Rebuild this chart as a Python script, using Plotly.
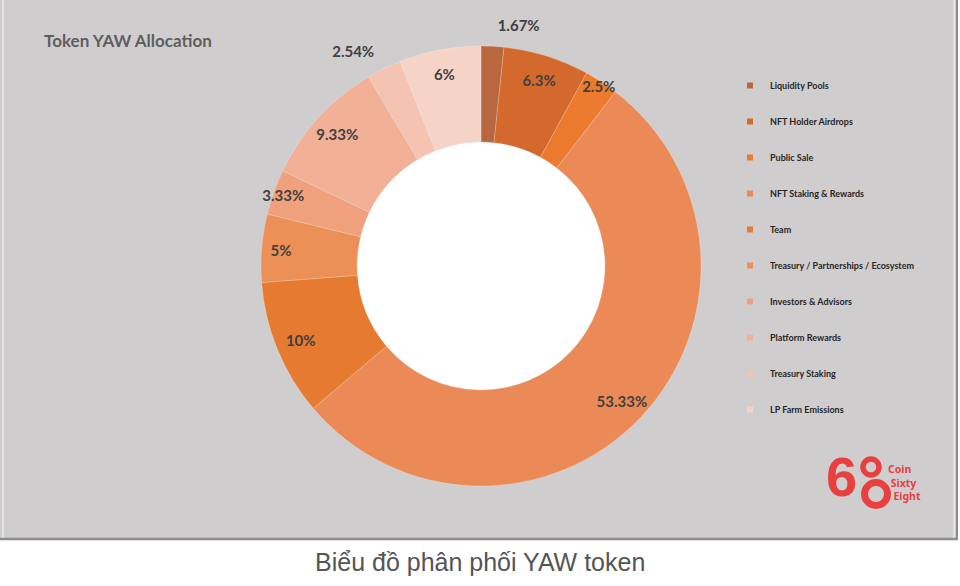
import plotly.graph_objects as go

labels = ["Liquidity Pools", "NFT Holder Airdrops", "Public Sale", "NFT Staking & Rewards",
          "Team", "Treasury / Partnerships / Ecosystem", "Investors & Advisors",
          "Platform Rewards", "Treasury Staking", "LP Farm Emissions"]
values = [1.67, 6.3, 2.5, 53.33, 10, 5, 3.33, 9.33, 2.54, 6]
colors = ["#b9673f", "#d4692e", "#ec7a2f", "#ec8a57", "#e57a30",
          "#ec9058", "#f0a07c", "#f2b097", "#f4c3b2", "#f6d3c7"]
text_pos = ["outside", "inside", "inside", "inside", "inside",
            "inside", "inside", "inside", "outside", "inside"]

W, H = 960, 586
cx, cy, R = 481, 266, 220
hole_r = 124
R2 = 232  # label ring

def dom(r):
    return dict(x=[(cx - r) / W, (cx + r) / W], y=[(H - cy - r) / H, (H - cy + r) / H])

def px_circle(x, y, r):
    return dict(x0=(x - r) / W, x1=(x + r) / W, y0=(H - y - r) / H, y1=(H - y + r) / H)

fig = go.Figure()
# donut
fig.add_trace(go.Pie(
    labels=labels, values=values, sort=False, direction="clockwise", rotation=0,
    hole=hole_r / R,
    marker=dict(colors=colors, line=dict(color="rgba(255,255,255,0.25)", width=0.8)),
    textinfo="none", showlegend=False, domain=dom(R),
))
# data labels (transparent ring slightly further out so labels sit like the original)
fig.add_trace(go.Pie(
    labels=labels, values=values, sort=False, direction="clockwise", rotation=0,
    hole=0.68,
    marker=dict(colors=["rgba(0,0,0,0)"] * len(values), line=dict(width=0)),
    texttemplate="%{value}%", textposition=text_pos,
    insidetextorientation="horizontal",
    textfont=dict(family="Lato", size=15, color="#404040", weight="bold"),
    showlegend=False, hoverinfo="skip", domain=dom(R2),
))

# legend entries (one group per slice so the spacing can be set)
for lab, col in zip(labels, colors):
    fig.add_trace(go.Scatter(
        x=[None], y=[None], mode="markers", name=lab, legendgroup=lab,
        marker=dict(symbol="square", size=6, color=col),
    ))

logo_red = "#e8403f"
shapes = [
    dict(type="rect", xref="paper", yref="paper", x0=0, x1=956 / W,
         y0=(H - 539) / H, y1=1, fillcolor="#d0cdce", line=dict(width=0), layer="below"),
    dict(type="line", xref="paper", yref="paper", x0=3 / W, x1=3 / W,
         y0=(H - 538) / H, y1=1, line=dict(color="#ecebeb", width=1.5), layer="below"),
    dict(type="line", xref="paper", yref="paper", x0=954 / W, x1=954 / W,
         y0=(H - 538) / H, y1=1, line=dict(color="#ecebeb", width=1.5), layer="below"),
    dict(type="line", xref="paper", yref="paper", x0=957 / W, x1=957 / W,
         y0=(H - 539) / H, y1=1, line=dict(color="#8c8c8c", width=2), layer="below"),
    dict(type="line", xref="paper", yref="paper", x0=0, x1=958 / W,
         y0=(H - 539) / H, y1=(H - 539) / H, line=dict(color="#8c8c8c", width=2.5), layer="below"),
    # white donut hole
    dict(type="circle", xref="paper", yref="paper", fillcolor="white", line=dict(width=0),
         layer="below", **px_circle(cx, cy, hole_r)),
    # logo rings
    dict(type="circle", xref="paper", yref="paper", fillcolor="rgba(0,0,0,0)",
         line=dict(color=logo_red, width=5.5), layer="above", **px_circle(871, 467, 8)),
    dict(type="circle", xref="paper", yref="paper", fillcolor="rgba(0,0,0,0)",
         line=dict(color=logo_red, width=7), layer="above", **px_circle(876, 494, 11.5)),
]

fig.update_layout(
    width=W, height=H,
    margin=dict(l=0, r=0, t=0, b=0),
    paper_bgcolor="white", plot_bgcolor="rgba(0,0,0,0)",
    xaxis=dict(visible=False, domain=[0.9, 0.91]),
    yaxis=dict(visible=False, domain=[0.9, 0.91]),
    uniformtext=dict(minsize=15, mode="show"),
    title=dict(text="<b>Token YAW Allocation</b>", x=44 / W, xanchor="left",
               y=(H - 41) / H, yanchor="middle",
               font=dict(family="Lato", size=17, color="#5e5e5e")),
    legend=dict(x=730 / W, xanchor="left", y=(H - 71) / H, yanchor="top",
                font=dict(family="Lato", size=9, color="#262626", weight="bold"),
                bgcolor="rgba(0,0,0,0)", tracegroupgap=17, itemwidth=30),
    shapes=shapes,
    annotations=[
        dict(text="Biểu đồ phân phối YAW token", x=0.5, y=(H - 562) / H, xref="paper", yref="paper",
             xanchor="center", yanchor="middle", showarrow=False,
             font=dict(family="Liberation Sans", size=25, color="#555555")),
        dict(text="<b>6</b>", x=841 / W, y=(H - 476) / H, xref="paper", yref="paper",
             xanchor="center", yanchor="middle", showarrow=False,
             font=dict(family="Liberation Sans", size=56, color=logo_red)),
        dict(text="<b>Coin<br>&nbsp;Sixty<br>&nbsp;&nbsp;Eight</b>", x=886 / W, y=(H - 482) / H,
             xref="paper", yref="paper", xanchor="left", yanchor="middle", align="left",
             showarrow=False, font=dict(family="Noto Sans", size=10.5, color=logo_red)),
    ],
)

fig.write_html("out.html", post_script="document.body.style.margin='0px';",
               config={"displayModeBar": False})
